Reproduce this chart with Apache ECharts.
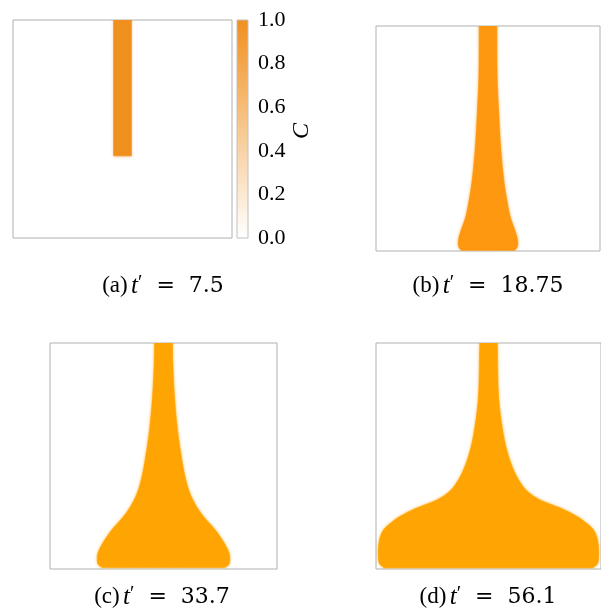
<!DOCTYPE html>
<html>
<head>
<meta charset="utf-8">
<script src="https://cdn.jsdelivr.net/npm/echarts@6/dist/echarts.min.js"></script>
<style>
  html, body { margin: 0; padding: 0; background: #ffffff; }
  #chart { width: 601px; height: 615px; }
</style>
</head>
<body>
<div id="chart"></div>
<script>
// Plume snapshots of concentration C at four dimensionless times.
// Heights are measured from the bottom of each domain (0..1),
// half-widths are measured from the domain centre line (fraction of domain width).
const captions = ['(a)', '(b)', '(c)', '(d)'];
const times = ['7.5', '18.75', '33.7', '56.1'];

const heightsA = [0.377, 1.0];
const halfA = [0.041, 0.041];

const heightsB = [0.003, 0.012, 0.03, 0.06, 0.107, 0.151, 0.24, 0.329, 0.477, 0.625, 0.773, 1.0];
const halfB = [0.118, 0.128, 0.133, 0.13, 0.115, 0.0995, 0.082, 0.069, 0.0557, 0.0475, 0.041, 0.0394];

const heightsC = [0.007, 0.02, 0.045, 0.07, 0.114, 0.173, 0.247, 0.32, 0.394, 0.498, 0.616, 0.763, 0.911, 1.0];
const halfC = [0.27, 0.288, 0.292, 0.289, 0.268, 0.228, 0.165, 0.1226, 0.0984, 0.0786, 0.0617, 0.0485, 0.0411, 0.0396];

const heightsD = [0.006, 0.024, 0.068, 0.127, 0.171, 0.2, 0.23, 0.26, 0.285, 0.308, 0.335, 0.37, 0.43, 0.52, 0.614, 0.761, 1.0];
const halfD = [0.465, 0.485, 0.49, 0.485, 0.468, 0.439, 0.398, 0.341, 0.28, 0.225, 0.183, 0.15, 0.115, 0.083, 0.063, 0.045, 0.039];

// Colour bar for C
const colorTicks = [0.0, 0.2, 0.4, 0.6, 0.8, 1.0];
const colorRange = ['#ffffff', '#f0901e'];

const panels = [
  { h: heightsA, w: halfA, color: '#f0901e', glow: 'rgba(240,144,30,0.7)', grid: { left: 13, top: 20, width: 219, height: 218 }, cap: [163, 286] },
  { h: heightsB, w: halfB, color: '#fd9810', glow: 'rgba(253,152,16,0.7)', grid: { left: 376, top: 26, width: 224, height: 225 }, cap: [488, 286] },
  { h: heightsC, w: halfC, color: '#ffa503', glow: 'rgba(255,165,3,0.7)', grid: { left: 50, top: 343, width: 227, height: 226 }, cap: [162, 597] },
  { h: heightsD, w: halfD, color: '#ffa503', glow: 'rgba(255,165,3,0.7)', grid: { left: 376, top: 343, width: 226, height: 226 }, cap: [488, 597] }
];

// Closed outline: up the right flank, then down the left flank.
function outline(heights, halves) {
  const right = heights.map((y, i) => [0.5 + halves[i], y]);
  const left = heights.map((y, i) => [0.5 - halves[i], y]).reverse();
  return right.concat(left);
}

// Repeat the four corner vertices so the smoothed outline keeps straight
// top and bottom edges without bulging at the corners.
function withCorners(pts) {
  const n = pts.length / 2;
  const out = [];
  pts.forEach((q, k) => {
    out.push(q);
    if (k === 0 || k === n - 1 || k === n || k === pts.length - 1) out.push(q);
  });
  return out;
}

const grids = [], xAxes = [], yAxes = [], series = [], graphics = [];

panels.forEach((p, i) => {
  grids.push(Object.assign({ show: true, borderColor: '#b0b0b0', borderWidth: 1, backgroundColor: '#ffffff' }, p.grid));
  xAxes.push({ type: 'value', gridIndex: i, min: 0, max: 1, show: false });
  yAxes.push({ type: 'value', gridIndex: i, min: 0, max: 1, show: false });
  const pts = outline(p.h, p.w);
  series.push({
    type: 'custom',
    xAxisIndex: i,
    yAxisIndex: i,
    clip: true,
    data: pts,
    renderItem: function (params, api) {
      if (params.dataIndex !== 0) return null;
      const px = withCorners(pts).map(q => api.coord(q));
      return {
        type: 'polygon',
        shape: { points: px, smooth: i === 0 ? 0 : 0.35 },
        style: {
          fill: p.color, stroke: p.color, lineWidth: 1, strokeOpacity: 0.5,
          shadowBlur: 3, shadowColor: p.glow
        }
      };
    }
  });
  graphics.push({
    type: 'text',
    x: p.cap[0],
    y: p.cap[1],
    style: {
      text: '{n|' + captions[i] + '} {t|t}{p|′}{e|  =  ' + times[i] + '}',
      align: 'center',
      verticalAlign: 'middle',
      fill: '#000',
      rich: {
        n: { fontFamily: 'Liberation Serif', fontSize: 23, fill: '#000' },
        t: { fontFamily: 'Liberation Serif', fontStyle: 'italic', fontSize: 25, fill: '#000' },
        p: { fontFamily: 'Liberation Serif', fontSize: 20, fill: '#000', verticalAlign: 'top' },
        e: { fontFamily: 'DejaVu Serif', fontSize: 22, fill: '#000' }
      }
    }
  });
});

// colour bar grid
const cb = 4;
grids.push({ left: 237, top: 20, width: 11, height: 218, show: true, borderColor: '#c0c0c0', borderWidth: 1, z: 3 });
xAxes.push({ type: 'value', gridIndex: cb, min: 0, max: 1, show: false });
yAxes.push({
  type: 'value', gridIndex: cb, position: 'right', min: colorTicks[0], max: colorTicks[colorTicks.length - 1], interval: 0.2,
  axisLine: { show: false }, axisTick: { show: false }, splitLine: { show: false },
  axisLabel: {
    margin: 10, color: '#000', fontFamily: 'Liberation Serif', fontSize: 22,
    formatter: v => colorTicks.some(t => Math.abs(t - v) < 1e-9) ? v.toFixed(1) : ''
  }
});
series.push({
  type: 'custom',
  xAxisIndex: cb,
  yAxisIndex: cb,
  data: [[0, colorTicks[0]], [1, colorTicks[colorTicks.length - 1]]],
  renderItem: function (params, api) {
    if (params.dataIndex !== 0) return null;
    const a = api.coord([0, colorTicks[0]]);
    const b = api.coord([1, colorTicks[colorTicks.length - 1]]);
    return {
      type: 'rect',
      shape: { x: a[0], y: b[1], width: b[0] - a[0], height: a[1] - b[1] },
      style: {
        fill: new echarts.graphic.LinearGradient(0, 1, 0, 0, [
          { offset: 0, color: colorRange[0] },
          { offset: 1, color: colorRange[1] }
        ])
      }
    };
  }
});
graphics.push({
  type: 'text',
  x: 302,
  y: 131,
  rotation: Math.PI / 2,
  style: {
    text: 'C', align: 'center', verticalAlign: 'middle',
    fontFamily: 'Liberation Serif', fontStyle: 'italic', fontSize: 24, fill: '#000'
  }
});

const chart = echarts.init(document.getElementById('chart'), null, { renderer: 'canvas' });
chart.setOption({
  backgroundColor: '#ffffff',
  animation: false,
  grid: grids,
  xAxis: xAxes,
  yAxis: yAxes,
  series: series,
  graphic: graphics
});
</script>
</body>
</html>
